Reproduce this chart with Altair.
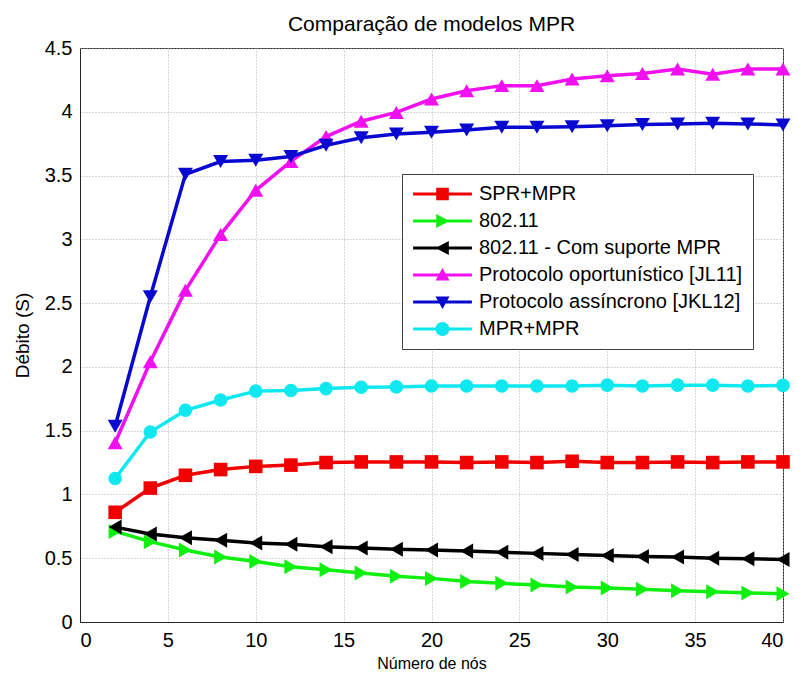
import altair as alt
import pandas as pd

# ---------------- data ----------------
nodes = [2, 4, 6, 8, 10, 12, 14, 16, 18, 20, 22, 24, 26, 28, 30, 32, 34, 36, 38, 40]

series_names = [
    "SPR+MPR",
    "802.11",
    "802.11 - Com suporte MPR",
    "Protocolo oportunístico [JL11]",
    "Protocolo assíncrono [JKL12]",
    "MPR+MPR",
]

spr_mpr = [0.86, 1.05, 1.15, 1.195, 1.22, 1.23, 1.25, 1.255, 1.255, 1.255,
           1.25, 1.255, 1.25, 1.26, 1.25, 1.25, 1.255, 1.25, 1.255, 1.255]
wifi = [0.71, 0.63, 0.565, 0.51, 0.475, 0.433, 0.41, 0.384, 0.358, 0.342,
        0.318, 0.303, 0.29, 0.274, 0.266, 0.256, 0.245, 0.238, 0.227, 0.222]
wifi_mpr = [0.744, 0.69, 0.66, 0.64, 0.62, 0.61, 0.59, 0.58, 0.57, 0.564,
            0.556, 0.546, 0.538, 0.53, 0.522, 0.514, 0.509, 0.50, 0.496, 0.49]
oportunistico = [1.405, 2.04, 2.6, 3.037, 3.384, 3.611, 3.806, 3.926, 3.995, 4.10,
                 4.165, 4.205, 4.205, 4.257, 4.283, 4.30, 4.335, 4.295, 4.335, 4.335]
assincrono = [1.535, 2.55, 3.51, 3.61, 3.62, 3.65, 3.737, 3.797, 3.826, 3.84,
              3.857, 3.879, 3.879, 3.883, 3.89, 3.90, 3.905, 3.91, 3.905, 3.897]
mpr_mpr = [1.125, 1.49, 1.66, 1.74, 1.81, 1.815, 1.83, 1.84, 1.843, 1.85,
           1.85, 1.85, 1.85, 1.85, 1.857, 1.85, 1.857, 1.857, 1.85, 1.855]

series_values = [spr_mpr, wifi, wifi_mpr, oportunistico, assincrono, mpr_mpr]
series_colors = ["#f00000", "#10f010", "#000000", "#f010f0", "#0808d0", "#10e8f0"]
marker_shapes = ["square", "triangle-right", "triangle-left", "triangle-up", "triangle-down", "circle"]

x_ticks = [0, 5, 10, 15, 20, 25, 30, 35, 40]
y_ticks = [0, 0.5, 1, 1.5, 2, 2.5, 3, 3.5, 4, 4.5]

# legend symbols: a line segment with the marker in its middle (custom SVG paths)
seg = "M-4.2,-0.23H4.2V0.23H-4.2Z "
legend_paths = [
    seg + "M-0.9,-0.9H0.9V0.9H-0.9Z",
    seg + "M-0.9,-1L1,0L-0.9,1Z",
    seg + "M0.9,-1V1L-1,0Z",
    seg + "M0,-1L1,0.8H-1Z",
    seg + "M-1,-0.8H1L0,1Z",
    seg + "M-1,0A1,1 0 1,1 1,0A1,1 0 1,1 -1,0Z",
]

rows = []
for name, vals in zip(series_names, series_values):
    for xv, yv in zip(nodes, vals):
        rows.append({"nodes": xv, "debito": yv, "series": name})
df = pd.DataFrame(rows)

FONT = "Liberation Sans"

x_enc = alt.X("nodes:Q",
              scale=alt.Scale(domain=[0, 40], nice=False),
              axis=alt.Axis(values=x_ticks, format="d", title="Número de nós",
                            titleFontSize=16, titleFontWeight="normal", titlePadding=5,
                            labelFontSize=20, labelPadding=8))
y_enc = alt.Y("debito:Q",
              scale=alt.Scale(domain=[0, 4.5], nice=False),
              axis=alt.Axis(values=y_ticks, format=".1~f", title="Débito (S)",
                            titleFontSize=19, titleFontWeight="normal", titlePadding=12,
                            labelFontSize=20, labelPadding=8))

base = alt.Chart(df)
layers = []
for name, shp, col in zip(series_names, marker_shapes, series_colors):
    sub = base.transform_filter(alt.datum.series == name)
    layers.append(sub.mark_line(strokeWidth=3.5, color=col).encode(x=x_enc, y=y_enc))
    size = 185 if shp in ("square", "circle") else 225
    layers.append(
        sub.mark_point(shape=shp, filled=True, size=size, opacity=1, color=col)
        .encode(x=x_enc, y=y_enc)
    )

legend = alt.Legend(
    title=None, orient="none", legendX=322, legendY=126,
    padding=10, rowPadding=7, symbolOffset=20.5, labelOffset=26.5,
    labelFontSize=20, labelFont=FONT, labelColor="black", labelLimit=500,
    strokeColor="#404040", fillColor="white",
    symbolSize=196, symbolStrokeWidth=0, symbolOpacity=1,
)
legend_layer = base.mark_point(filled=True, opacity=0).encode(
    x=x_enc, y=y_enc,
    color=alt.Color("series:N", scale=alt.Scale(domain=series_names, range=series_colors),
                    legend=legend),
    shape=alt.Shape("series:N", scale=alt.Scale(domain=series_names, range=legend_paths),
                    legend=legend),
)
layers.append(legend_layer)

chart = alt.layer(*layers).properties(
    width=703, height=574,
    padding={"left": 80, "top": 48, "right": 17, "bottom": 51},
    autosize=alt.AutoSizeParams(type="none"),
    title=alt.TitleParams("Comparação de modelos MPR", fontSize=21, fontWeight="normal",
                          font=FONT, color="black", anchor="middle",
                          baseline="alphabetic", offset=16, dy=30),
).configure(
    font=FONT, background="white",
).configure_view(
    stroke="#262626", strokeWidth=1,
).configure_axis(
    labelFont=FONT, titleFont=FONT, labelColor="black", titleColor="black",
    domainColor="#262626", domainWidth=1, ticks=False,
    grid=True, gridColor="#b0b0b0", gridDash=[1, 2], gridWidth=1,
)

chart.save("out.html", embed_options={"renderer": "svg", "actions": False})
